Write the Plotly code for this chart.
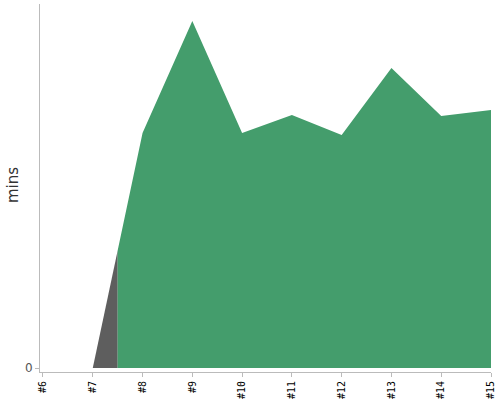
import plotly.graph_objects as go

builds = ["#6", "#7", "#8", "#9", "#10", "#11", "#12", "#13", "#14", "#15"]
# build duration in minutes (#6 has no value)
durations = [None, 0.0, 2.35, 3.47, 2.35, 2.53, 2.33, 3.00, 2.52, 2.58]
# index where the build turns from failed (gray) to passed (green)
split_at = 1

pos = list(range(6, 6 + len(builds)))

# gray part runs from the failed build to halfway to the next one
x0, x1 = pos[split_at], pos[split_at + 1]
y0, y1 = durations[split_at], durations[split_at + 1]
mid_x = (x0 + x1) / 2
mid_y = (y0 + y1) / 2

fig = go.Figure()
fig.add_trace(go.Scatter(
    x=[x0, mid_x], y=[y0, mid_y],
    mode="lines", line=dict(width=0),
    fill="tozeroy", fillcolor="#5e5e5e",
    hoverinfo="skip", showlegend=False,
))
fig.add_trace(go.Scatter(
    x=[mid_x] + pos[split_at + 1:], y=[mid_y] + durations[split_at + 1:],
    mode="lines", line=dict(width=0),
    fill="tozeroy", fillcolor="#449d6c",
    showlegend=False,
))

fig.update_layout(
    width=500, height=400,
    margin=dict(l=40, r=9, t=4, b=28, autoexpand=False),
    paper_bgcolor="white", plot_bgcolor="white",
    font=dict(family="DejaVu Sans", color="#222"),
    xaxis=dict(
        range=[5.94, 15.0], automargin=False,
        tickmode="array", tickvals=pos, ticktext=builds,
        tickangle=-90, tickfont=dict(family="DejaVu Sans Mono", size=10, color="black"),
        ticks="outside", ticklen=4, tickcolor="#bbb",
        showline=True, linecolor="#bbb", linewidth=1,
        showgrid=False, zeroline=False,
    ),
    yaxis=dict(
        range=[-0.04, 3.64], automargin=False,
        tickmode="array", tickvals=[0], ticktext=["0"],
        tickfont=dict(size=12, color="#555"),
        ticks="outside", ticklen=4, tickcolor="#bbb",
        showline=True, linecolor="#bbb", linewidth=1,
        showgrid=False, zeroline=False,
    ),
)

# axis title as an annotation so it sits where the reference has it
fig.add_annotation(
    text="mins", textangle=-90, showarrow=False,
    xref="paper", yref="paper", x=0, y=0.5,
    xanchor="center", yanchor="middle", xshift=-27, yshift=3,
    font=dict(size=15, color="#333"),
)

# drop the page's default body margin so the 500x400 figure fills the window
fig.write_html(
    "out.html",
    config={"displayModeBar": False},
    post_script="document.body.style.margin = '0';",
)
